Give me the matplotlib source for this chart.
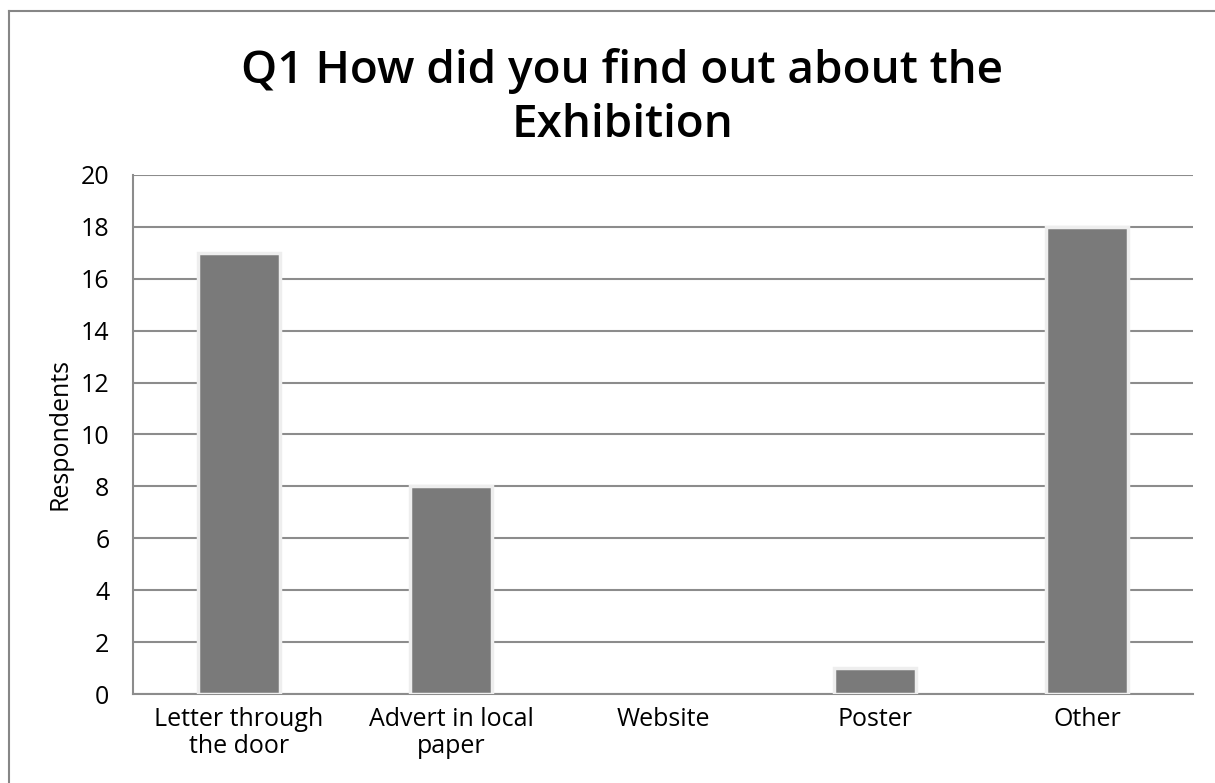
import matplotlib.pyplot as plt
from matplotlib.lines import Line2D

categories = ['Letter through\nthe door', 'Advert in local\npaper', 'Website', 'Poster', 'Other']
respondents = [17, 8, 0, 1, 18]
yticks = list(range(0, 21, 2))

plt.rcParams['font.family'] = ['Open Sans', 'DejaVu Sans']

W, H = 1215, 783
fig = plt.figure(figsize=(W / 100, H / 100), dpi=100)

# chart border: top and left edges
border = dict(transform=fig.transFigure, color='#868686', linewidth=1.5)
fig.lines.append(Line2D([9 / W, 9 / W], [0, 1 - 11 / H], **border))
fig.lines.append(Line2D([9 / W, 1], [1 - 11 / H, 1 - 11 / H], **border))

ax = fig.add_axes([133 / W, (H - 694) / H, (1193 - 133) / W, (694 - 175) / H])
x = range(len(categories))
edges = ['#eeeeee' if v > 0 else 'none' for v in respondents]
ax.bar(x, respondents, width=0.39, color='#7a7a7a', edgecolor=edges,
       linewidth=2.5, zorder=3)
ax.set_xlim(-0.5, len(categories) - 0.5)
ax.set_ylim(0, 20)
ax.set_yticks(yticks)
ax.set_xticks(list(x))
ax.set_xticklabels(categories, fontsize=18, linespacing=1.15)
ax.tick_params(axis='y', labelsize=18, length=0, pad=17)
ax.tick_params(axis='x', length=0, pad=9)
ax.yaxis.grid(True, color='#8c8c8c', linewidth=1.5, zorder=0)
ax.set_axisbelow(True)
for pos in ['right', 'top']:
    ax.spines[pos].set_visible(False)
for pos in ['left', 'bottom']:
    ax.spines[pos].set_color('#8c8c8c')
    ax.spines[pos].set_linewidth(1.5)
ax.set_ylabel('Respondents', fontsize=18, labelpad=6)

fig.text(622 / W, 1 - 98 / H, 'Q1 How did you find out about the\nExhibition',
         ha='center', va='center', fontsize=33, fontweight='semibold', linespacing=1.25)

fig.savefig('out.png', dpi=100)
